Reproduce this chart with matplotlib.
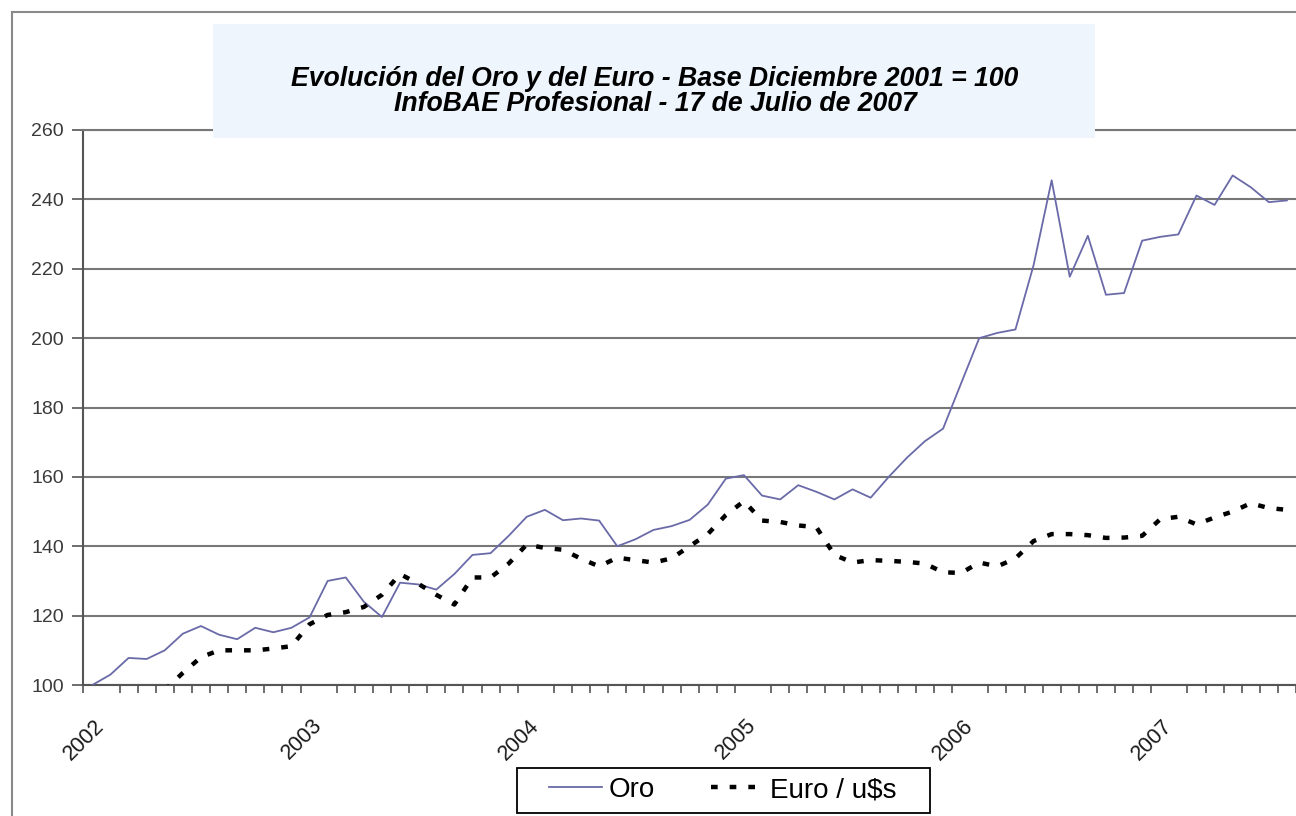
import numpy as np
import matplotlib.pyplot as plt
from matplotlib.patches import Rectangle
from matplotlib.lines import Line2D

plt.rcParams['font.family'] = ['Liberation Sans', 'DejaVu Sans']

# Monthly index, base Dec 2001 = 100 (index 0)
oro = [100, 103, 107.8, 107.5, 110, 114.8, 117, 114.5, 113.2, 116.5,
       115.2, 116.5, 119.5, 130, 131, 124, 119.6, 129.5, 129, 127.5,
       132, 137.5, 138, 143, 148.5, 150.5, 147.5, 148, 147.4, 140,
       142, 144.7, 145.8, 147.6, 152, 159.5, 160.5, 154.6, 153.5, 157.6,
       155.7, 153.5, 156.4, 154, 160, 165.5, 170.3, 173.9, 187, 200,
       201.5, 202.5, 221, 245.5, 217.7, 229.5, 212.5, 213, 228.1, 229.2,
       229.9, 241.1, 238.4, 246.9, 243.5, 239.2, 239.7]

# first months lie under the 100 floor and are not visible
euro = [np.nan, np.nan, np.nan, np.nan, 98.5, 103.5, 108, 110, 110, 110,
        110.5, 111.2, 117.5, 120.2, 121, 122.5, 126, 132, 129.2, 126,
        123.2, 131, 131, 135, 140.5, 139.5, 139, 136.4, 134.2, 136.7,
        136, 135.3, 136.5, 140, 143.5, 149, 153, 147.4, 147, 146,
        145.5, 137.5, 135.3, 136, 135.8, 135.5, 135, 132.5, 132.3, 135.3,
        134.2, 136.5, 141.5, 143.5, 143.5, 143.2, 142.4, 142.5, 143, 147.8,
        148.5, 146.3, 148.3, 150, 152.4, 151, 150.5]

years = ['2002', '2003', '2004', '2005', '2006', '2007']
year_pos = [0.5, 12.5, 24.5, 36.5, 48.5, 59.5]
yticks = [100, 120, 140, 160, 180, 200, 220, 240, 260]

W, H = 1296, 816
fig = plt.figure(figsize=(W / 100, H / 100), dpi=100)
ax = fig.add_axes([83.3 / W, 1 - 685 / H, 1 - 83.3 / W, (685 - 130) / H])

x = np.arange(len(oro))
ax.plot(x, oro, color='#6a6aa8', lw=1.3, label='Oro', zorder=3)
ax.plot(x, euro, color='black', lw=3.2, dashes=(1.5, 2.7), label='Euro / u$s', zorder=4)

ax.set_xlim(-0.5, 66.2)
ax.set_ylim(100, 260)
ax.set_yticks(yticks)
ax.yaxis.grid(True, color='#777777', lw=1.5)
ax.set_axisbelow(True)

ax.set_xticks(np.arange(-0.5, 67, 1), minor=True)
ax.set_xticks(year_pos)
ax.set_xticklabels(years, rotation=45, ha='right', va='center', rotation_mode='anchor')
ax.tick_params(axis='x', which='minor', direction='out', length=6, width=1.2, color='#555555')
ax.tick_params(axis='x', which='major', length=0, pad=27, labelsize=15.5, labelcolor='#1a1a1a')
ax.tick_params(axis='y', direction='out', length=8, width=1.2, color='#555555',
               pad=6, labelsize=14, labelcolor='#3a3a3a')

for s in ['left', 'bottom']:
    ax.spines[s].set_color('#555555')
    ax.spines[s].set_linewidth(1.5)
ax.spines['top'].set_color('#777777')
ax.spines['top'].set_linewidth(1.5)
ax.spines['right'].set_visible(False)

# title box over the plot
fig.add_artist(Rectangle((213 / W, 1 - 138 / H), 882 / W, 114 / H, facecolor='#eef5fd',
                         edgecolor='none', transform=fig.transFigure, zorder=5))
fig.text(655 / W, 1 - 79 / H, 'Evolución del Oro y del Euro - Base Diciembre 2001 = 100',
         ha='center', va='center', fontsize=19.2, fontweight='bold', fontstyle='italic', zorder=6)
fig.text(655 / W, 1 - 104 / H, 'InfoBAE Profesional - 17 de Julio de 2007',
         ha='center', va='center', fontsize=19.2, fontweight='bold', fontstyle='italic', zorder=6)

# outer chart frame
fig.add_artist(Line2D([12 / W, 1], [1 - 12 / H, 1 - 12 / H], color='#8a8a8a', lw=1.5,
                      transform=fig.transFigure))
fig.add_artist(Line2D([12 / W, 12 / W], [0, 1 - 12 / H], color='#8a8a8a', lw=1.5,
                      transform=fig.transFigure))

# legend box drawn by hand, entries inside
fig.add_artist(Rectangle((517 / W, 1 - 813 / H), 413 / W, 45 / H, facecolor='white',
                         edgecolor='black', lw=1.3, transform=fig.transFigure, zorder=5))
leg = fig.legend(loc='center', bbox_to_anchor=(723 / W, 1 - 790 / H), ncol=2, fontsize=20,
                 frameon=False, handlelength=1.9, columnspacing=2.0, borderpad=0.2,
                 handletextpad=0.25)
leg.set_zorder(6)

fig.savefig('out.png', dpi=100, facecolor='white')
